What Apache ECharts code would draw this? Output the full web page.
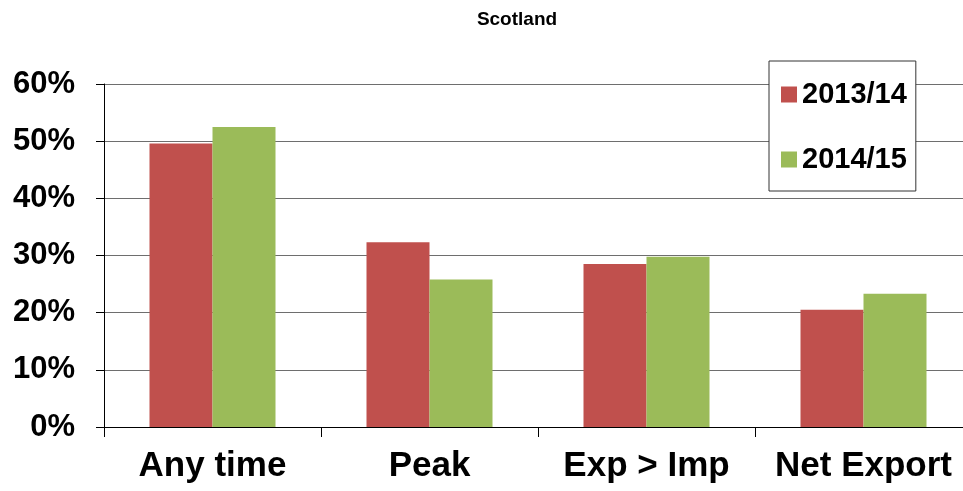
<!DOCTYPE html>
<html>
<head>
<meta charset="utf-8">
<script src="https://cdn.jsdelivr.net/npm/echarts@6/dist/echarts.min.js"></script>
<style>html,body{margin:0;padding:0;background:#fff;overflow:hidden;width:963px;height:491px;}#c{width:972px;height:491px;}</style>
</head>
<body>
<div id="c"></div>
<script>
const categories = ['Any time', 'Peak', 'Exp > Imp', 'Net Export'];
const seriesNames = ['2013/14', '2014/15'];
const values2013 = [49.6, 32.3, 28.5, 20.5];
const values2014 = [52.5, 25.8, 29.8, 23.3];
const yTicks = [0, 10, 20, 30, 40, 50, 60];

const font = 'Liberation Sans, Arial, sans-serif';
const chart = echarts.init(document.getElementById('c'), null, {renderer: 'canvas'});
chart.setOption({
  animation: false,
  backgroundColor: '#ffffff',
  title: {
    text: 'Scotland',
    left: 512, top: 5, textAlign: 'center',
    textStyle: {fontFamily: font, fontWeight: 'bold', fontSize: 19, color: '#000'}
  },
  legend: {
    data: seriesNames,
    orient: 'vertical',
    left: 769, top: 61,
    padding: [19, 9, 17, 12],
    itemGap: 36,
    itemWidth: 16, itemHeight: 16,
    icon: 'rect',
    backgroundColor: '#ffffff',
    borderColor: '#333333', borderWidth: 1,
    textStyle: {fontFamily: font, fontWeight: 'bold', fontSize: 29, color: '#000'}
  },
  grid: {left: 104, right: 0, top: 84, bottom: 64, containLabel: false},
  xAxis: {
    type: 'category',
    data: categories,
    axisLine: {lineStyle: {color: '#000', width: 1}},
    axisTick: {show: true, length: 10, lineStyle: {color: '#000'}},
    axisLabel: {
      margin: 22, color: '#000', fontFamily: font, fontWeight: 'bold', fontSize: 35,
      interval: 0
    }
  },
  yAxis: {
    type: 'value',
    min: yTicks[0], max: yTicks[yTicks.length - 1], interval: 10,
    axisLine: {show: true, lineStyle: {color: '#000', width: 1}},
    axisTick: {show: true, length: 8, lineStyle: {color: '#000'}},
    splitLine: {show: true, lineStyle: {color: '#6e6e6e', width: 1}},
    axisLabel: {
      margin: 29, color: '#000', fontFamily: font, fontWeight: 'bold', fontSize: 31,
      formatter: '{value}%'
    }
  },
  series: [
    {name: seriesNames[0], type: 'bar', data: values2013, barWidth: 63, barGap: '0%',
     itemStyle: {color: '#C0504D'}},
    {name: seriesNames[1], type: 'bar', data: values2014, barWidth: 63, barGap: '0%',
     itemStyle: {color: '#9BBB59'}}
  ]
});
</script>
</body>
</html>
